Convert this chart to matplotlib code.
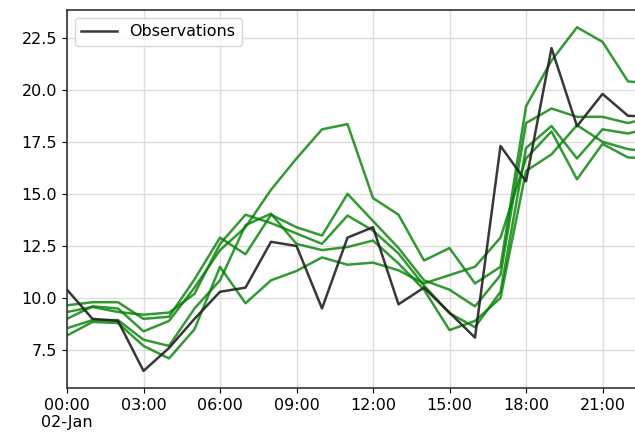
import numpy as np
import matplotlib
matplotlib.use('Agg')
import matplotlib.pyplot as plt

#----------------------------------
# Datos (horas del 02-Jan)
horas = np.arange(24)

obs = [10.4, 9.0, 8.9, 6.5, 7.6, 9.0, 10.3, 10.5, 12.7, 12.5, 9.5, 12.9,
       13.4, 9.7, 10.5, 9.3, 8.1, 17.3, 15.6, 22.0, 18.25, 19.8, 18.75, 18.7]

# miembros del ensemble
g1 = [9.0, 9.6, 9.5, 8.4, 8.9, 10.5, 12.3, 13.4, 15.2, 16.7, 18.1, 18.35,
      14.8, 14.0, 11.8, 12.4, 10.7, 11.5, 19.2, 21.4, 23.0, 22.3, 20.4, 20.3]
g2 = [9.65, 9.8, 9.8, 9.0, 9.1, 10.9, 12.9, 12.1, 14.0, 13.4, 13.0, 15.0,
      13.7, 12.4, 10.85, 10.4, 9.6, 11.1, 18.4, 19.1, 18.7, 18.7, 18.4, 18.7]
g3 = [9.33, 9.57, 9.33, 9.2, 9.3, 10.2, 12.6, 14.0, 13.6, 13.1, 12.6, 13.96,
      13.24, 12.14, 10.6, 9.27, 8.6, 10.3, 17.2, 18.26, 16.7, 18.1, 17.9, 18.2]
g4 = [8.55, 8.94, 8.94, 8.0, 7.7, 9.5, 10.85, 13.5, 14.05, 12.6, 12.3, 12.45,
      12.76, 11.66, 10.4, 8.46, 8.9, 10.0, 16.1, 16.9, 18.3, 17.5, 17.15, 17.0]
g5 = [8.2, 8.85, 8.8, 7.7, 7.1, 8.5, 11.5, 9.75, 10.85, 11.3, 11.95, 11.6,
      11.7, 11.33, 10.7, 11.1, 11.5, 12.9, 16.7, 18.0, 15.7, 17.4, 16.75, 16.7]
ensemble = [g1, g2, g3, g4, g5]

xticks = [0, 3, 6, 9, 12, 15, 18, 21]
xlabels = ['00:00\n02-Jan', '03:00', '06:00', '09:00', '12:00', '15:00', '18:00', '21:00']
yticks = [7.5, 10.0, 12.5, 15.0, 17.5, 20.0, 22.5]

#----------------------------------
# Grafica
fig = plt.figure(figsize=(6.35, 4.37), dpi=100)
ax = fig.add_axes([67/635., 49/437., 586.5/635., 378/437.])

for g in ensemble:
    ax.plot(horas, g, color='green', lw=1.8, alpha=0.8)
ax.plot(horas, obs, color='#222222', lw=1.8, alpha=0.9, label='Observations')

ax.set_xlim(0, 23)
ax.set_ylim(5.68, 23.83)
ax.set_xticks(xticks)
ax.set_xticklabels(xlabels, fontsize=11.5)
ax.set_yticks(yticks)
ax.set_yticklabels(['{:.1f}'.format(v) for v in yticks], fontsize=11.5)
ax.grid(True, color='#dddddd', lw=1.0)
ax.set_axisbelow(True)
for s in ax.spines.values():
    s.set_color('#333333')
    s.set_linewidth(1.2)

ax.legend(loc='upper left', fontsize=11.5, edgecolor='#cccccc', handlelength=2.2)

fig.savefig('out.png', dpi=100)
